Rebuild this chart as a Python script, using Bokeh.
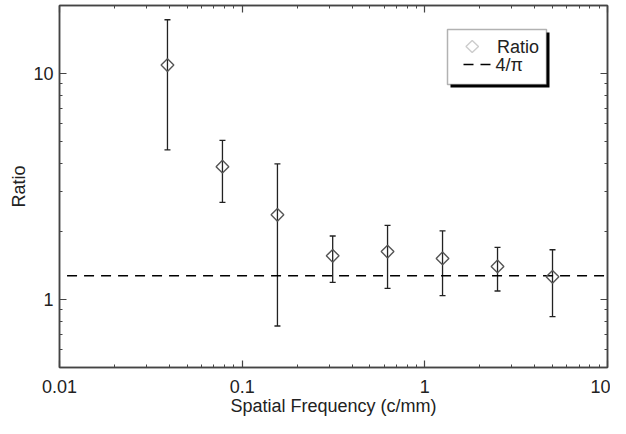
import math
from bokeh.plotting import figure
from bokeh.models import (Range1d, LogAxis, FixedTicker, Whisker, TeeHead,
                          ColumnDataSource, BoxAnnotation, PolyAnnotation,
                          Label, Arrow)
from bokeh.embed import file_html
from bokeh.resources import INLINE

# ---- data ----
freq = [0.039, 0.078, 0.156, 0.313, 0.625, 1.25, 2.5, 5.0]
ratio = [10.9, 3.87, 2.37, 1.56, 1.63, 1.52, 1.40, 1.26]
ratio_upper = [17.3, 5.06, 3.98, 1.91, 2.13, 2.01, 1.70, 1.66]
ratio_lower = [4.59, 2.69, 0.763, 1.19, 1.12, 1.04, 1.09, 0.84]

ref_x = [0.011, 10.0]
ref_value = 4 / math.pi

legend_labels = ["Ratio", "4/π"]

x_major = [0.01, 0.1, 1, 10]
x_tick_labels = ["0.01", "0.1", "1", "10"]
y_major = [1, 10]
y_tick_labels = ["1", "10"]
x_minor = [round(m * 10.0 ** e, 6) for e in (-2, -1, 0) for m in range(2, 10)]
y_minor = [0.5, 0.6, 0.7, 0.8, 0.9] + [float(m) for m in range(2, 10)] + [20.0]

FONT = "Liberation Sans"
INK = "#222222"
FRAME = "#444444"
MARK = "#555555"

p = figure(width=610, height=418,
           x_axis_type="log", y_axis_type="log",
           x_range=Range1d(0.01, 10), y_range=Range1d(0.5, 20),
           output_backend="svg", toolbar_location=None,
           min_border_left=59, min_border_right=3,
           min_border_top=5, min_border_bottom=51,
           x_axis_label="Spatial Frequency (c/mm)", y_axis_label="Ratio")
p.grid.visible = False
p.background_fill_color = "white"
p.border_fill_color = "white"
p.outline_line_color = FRAME
p.outline_line_width = 1.5

src = ColumnDataSource(dict(x=freq, y=ratio, upper=ratio_upper, lower=ratio_lower))

# error bars
wh = Whisker(base="x", upper="upper", lower="lower", source=src,
             line_color=INK, line_width=1.3,
             upper_head=TeeHead(size=6, line_color=INK, line_width=1.3),
             lower_head=TeeHead(size=6, line_color=INK, line_width=1.3))
p.add_layout(wh)

# reference line 4/pi
p.line(x=ref_x, y=[ref_value, ref_value], line_color="black",
       line_width=1.5, line_dash="10 7")

# diamonds (rotated squares, hollow)
p.scatter(x="x", y="y", source=src, marker="square", angle=math.pi / 4,
          size=9, fill_color=None, line_color=MARK, line_width=1.4)


def style_axis(ax, labels=True):
    ax.axis_line_color = FRAME
    ax.axis_line_width = 1.5
    ax.major_tick_line_color = FRAME
    ax.minor_tick_line_color = FRAME
    ax.major_tick_line_width = 1.2
    ax.minor_tick_line_width = 1.0
    ax.major_tick_in = 7
    ax.major_tick_out = 0
    ax.minor_tick_in = 3
    ax.minor_tick_out = 0
    if labels:
        ax.major_label_text_font = FONT
        ax.major_label_text_font_size = "18px"
        ax.major_label_text_color = INK
        ax.axis_label_text_font = FONT
        ax.axis_label_text_font_size = "18px"
        ax.axis_label_text_font_style = "normal"
        ax.axis_label_text_color = INK
    else:
        ax.major_label_text_font_size = "0px"
        ax.major_label_standoff = 0


xb = p.xaxis[0]
xb.ticker = FixedTicker(ticks=x_major, minor_ticks=x_minor)
xb.major_label_overrides = dict(zip(x_major, x_tick_labels))
style_axis(xb)
xb.major_label_standoff = 12
xb.axis_label_standoff = 0

yl = p.yaxis[0]
yl.ticker = FixedTicker(ticks=y_major, minor_ticks=y_minor)
yl.major_label_overrides = dict(zip(y_major, y_tick_labels))
style_axis(yl)
yl.major_label_standoff = 6
yl.axis_label_standoff = 1

xt = LogAxis(ticker=FixedTicker(ticks=x_major, minor_ticks=x_minor))
xt.major_label_overrides = {v: "" for v in x_major}
style_axis(xt, labels=False)
p.add_layout(xt, "above")

yr = LogAxis(ticker=FixedTicker(ticks=y_major, minor_ticks=y_minor))
yr.major_label_overrides = {v: "" for v in y_major}
style_axis(yr, labels=False)
p.add_layout(yr, "right")

# ---- legend box (screen units: from frame left, from frame bottom) ----
SCR = dict(left_units="screen", right_units="screen",
           top_units="screen", bottom_units="screen")
p.add_layout(BoxAnnotation(left=391, right=490, top=335, bottom=280,
                           fill_color="black", fill_alpha=1.0,
                           line_color=None, **SCR))
p.add_layout(BoxAnnotation(left=388, right=487, top=338, bottom=283,
                           fill_color="white", fill_alpha=1.0,
                           line_color="black", line_width=1.5, **SCR))
p.add_layout(PolyAnnotation(xs=[406.5, 412.7, 419.0, 412.7],
                            ys=[321, 327, 321, 315],
                            xs_units="screen", ys_units="screen",
                            fill_color=None, line_color=MARK, line_width=1.4))
p.add_layout(Arrow(x_start=404, y_start=303, x_end=431, y_end=303,
                   start_units="screen", end_units="screen",
                   start=None, end=None, line_color="black",
                   line_width=1.5, line_dash="10 7"))
for txt, lx, ly in zip(legend_labels, [437.5, 436.0], [321, 303]):
    p.add_layout(Label(x=lx, y=ly, x_units="screen", y_units="screen",
                       text=txt, text_font=FONT, text_font_size="18px",
                       text_color=INK, text_baseline="middle",
                       text_align="left"))

open("out.html", "w").write(file_html(p, INLINE))
